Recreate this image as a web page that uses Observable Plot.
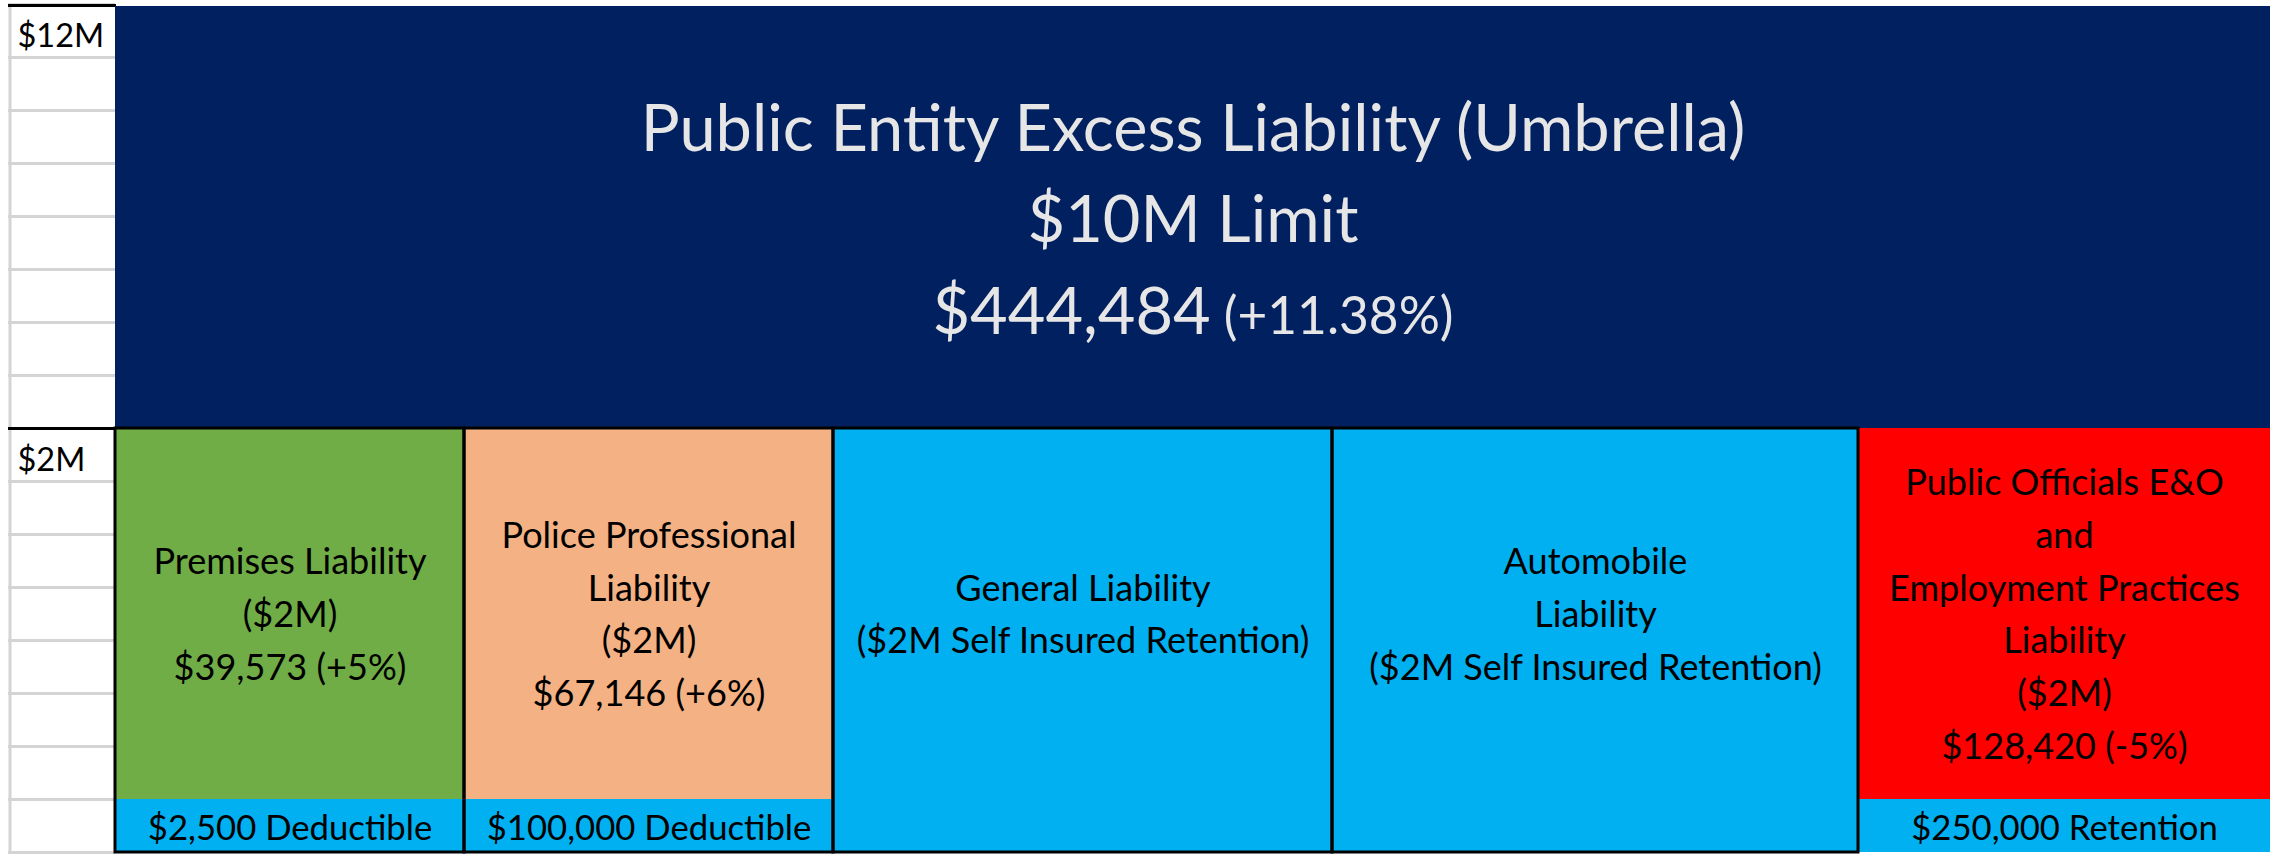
<!DOCTYPE html>
<html><head><meta charset="utf-8">
<script src="https://cdn.jsdelivr.net/npm/d3@7"></script>
<script src="https://cdn.jsdelivr.net/npm/@observablehq/plot@0.6"></script>
<style>
html,body{margin:0;padding:0;background:#fff;}
#chart svg{display:block;}
</style>
</head><body><div id="chart"></div>
<script>
// ---------------- data ----------------
const excessName = "Public Entity Excess Liability (Umbrella)";
const excessAttachment = 2e6;
const excessLimit = 10e6;
const excessPremium = 444484;
const excessChange = 0.1138;

const coverageNames = [
  "Premises Liability",
  "Police Professional\nLiability",
  "General Liability",
  "Automobile\nLiability",
  "Public Officials E&O\nand\nEmployment Practices\nLiability"
];
const coverageLimitText = ["($2M)", "($2M)", "($2M Self Insured Retention)", "($2M Self Insured Retention)", "($2M)"];
const coverageLimits = [2e6, 2e6, 2e6, 2e6, 2e6];
const coveragePremiums = [39573, 67146, null, null, 128420];
const coverageChanges = [0.05, 0.06, null, null, -0.05];
const retentionText = ["$2,500 Deductible", "$100,000 Deductible", null, null, "$250,000 Retention"];

const yTickValues = [2e6, 12e6];
const yTickLabels = ["$2M", "$12M"];

// ---------------- styles / layout ----------------
const coverageColors = ["#70AD47", "#F4B183", "#00B0F0", "#00B0F0", "#FF0000"];
const coverageBorder = [true, true, true, true, false];
const excessColor = "#002060";
const retentionColor = "#00B0F0";
const columnWidths = [349, 369, 499, 526, 412];
const labelColumnWidth = 107;
const W = 2280, H = 858;

// sheet rows: the $0–2M primary layer and the $2M–12M excess layer each span 8 rows
const toRow = d3.scaleLinear().domain([0, 2e6, 12e6]).range([0, 8, 16]);
const retentionRows = 1;

// font sizing: fit Lato to the original Calibri widths
const ctx = document.createElement("canvas").getContext("2d");
function textW(s, size) { ctx.font = `${size}px Lato`; return ctx.measureText(s).width; }
let k = 1108 / textW(excessName, 72);
if (!isFinite(k) || k <= 0) k = 0.9;
const titleSize = 72 * k;
const pctSize = 57 * k;
const bodySize = 40 * k;
const stripSize = 38.5 * k;
const tickSize = 36 * k;

const fmtMoney = d3.format("$,");
const fmtPct0 = p => d3.format("+.0%")(p).replace("\u2212", "-");
const fmtPct2 = p => d3.format("+.2%")(p).replace("\u2212", "-");

const totalW = d3.sum(columnWidths);
const edges = [0, ...d3.cumsum(columnWidths)];

const coverages = coverageNames.map((name, i) => ({
  x1: edges[i], x2: edges[i + 1], xm: (edges[i] + edges[i + 1]) / 2,
  top: toRow(coverageLimits[i]),
  color: coverageColors[i],
  border: coverageBorder[i],
  retention: retentionText[i],
  label: name + "\n" + coverageLimitText[i] +
    (coveragePremiums[i] != null ? `\n${fmtMoney(coveragePremiums[i])} (${fmtPct0(coverageChanges[i])})` : "")
}));
const withRetention = coverages.filter(d => d.retention);
const bordered = coverages.filter(d => d.border);

const excess = [{x1: 0, x2: totalW, y1: toRow(excessAttachment), y2: toRow(excessAttachment + excessLimit)}];
const excessMidX = totalW / 2;
const excessMidY = (excess[0].y1 + excess[0].y2) / 2;

const line1 = excessName;
const line2 = `$${excessLimit / 1e6}M Limit`;
const line3a = fmtMoney(excessPremium);
const line3b = `(${fmtPct2(excessChange)})`;
const wA = textW(line3a, titleSize), wS = textW(" ", pctSize), wB = textW(line3b, pctSize);
const start3 = -(wA + wS + wB) / 2;

const gridRows = d3.range(0, 17);
const bodyLine = 52.7 / bodySize;
const labelTop = toRow(2e6);
const bodyMid = (retentionRows + labelTop) / 2;

const ticks = yTickValues.map((v, i) => ({y: toRow(v), label: yTickLabels[i]}));

const chart = Plot.plot({
  width: W, height: H,
  marginLeft: 8, marginRight: 10, marginTop: 4, marginBottom: 6,
  style: {fontFamily: "Lato", background: "#fff"},
  x: {domain: [-labelColumnWidth, totalW], axis: null},
  y: {domain: [0, 16], axis: null},
  color: {type: "identity"},
  marks: [
    // sheet gridlines in label column
    Plot.ruleY(gridRows, {y: d => d, x1: -labelColumnWidth, x2: 0, stroke: "#D4D4D4", strokeWidth: 3}),
    Plot.ruleX([-labelColumnWidth], {y1: 0, y2: 16, stroke: "#D4D4D4", strokeWidth: 3, dx: 1.5}),
    Plot.ruleY([16], {x1: -labelColumnWidth, x2: 1, stroke: "#000", strokeWidth: 3, dy: 1}),
    Plot.ruleY([labelTop], {x1: -labelColumnWidth, x2: 0, stroke: "#000", strokeWidth: 3}),
    // excess layer
    Plot.rect(excess, {x1: "x1", x2: "x2", y1: "y1", y2: "y2", fill: excessColor, dy: 2}),
    // primary coverages
    Plot.rect(coverages, {x1: "x1", x2: "x2", y1: 0, y2: "top", fill: "color"}),
    Plot.rect(withRetention, {x1: "x1", x2: "x2", y1: 0, y2: retentionRows, fill: retentionColor}),
    Plot.rect(bordered, {x1: "x1", x2: "x2", y1: 0, y2: "top", fill: "none", stroke: "#000", strokeWidth: 3}),
    // tick labels
    Plot.text(ticks, {x: -labelColumnWidth, y: "y", text: "label",
      textAnchor: "start", lineAnchor: "bottom", dx: 9, dy: 42, fontSize: tickSize, fill: "#000"}),
    // excess text
    Plot.text([line1], {x: excessMidX, y: excessMidY, text: d => d, lineAnchor: "bottom", dy: -66, fontSize: titleSize, fill: "#E7E6E6"}),
    Plot.text([line2], {x: excessMidX, y: excessMidY, text: d => d, lineAnchor: "bottom", dy: 25, fontSize: titleSize, fill: "#E7E6E6"}),
    Plot.text([line3a], {x: excessMidX, y: excessMidY, text: d => d, lineAnchor: "bottom", textAnchor: "start", dx: start3, dy: 117, fontSize: titleSize, fill: "#E7E6E6"}),
    Plot.text([line3b], {x: excessMidX, y: excessMidY, text: d => d, lineAnchor: "bottom", textAnchor: "start", dx: start3 + wA + wS, dy: 117, fontSize: pctSize, fill: "#E7E6E6"}),
    // coverage text
    Plot.text(coverages, {x: "xm", y: bodyMid, text: "label",
      lineAnchor: "middle", lineHeight: bodyLine, dy: -4, fontSize: bodySize, fill: "#000"}),
    Plot.text(withRetention, {x: "xm", y: retentionRows / 2, text: "retention",
      lineAnchor: "bottom", dy: 13.5, fontSize: stripSize, fill: "#000"})
  ]
});
document.getElementById("chart").appendChild(chart);
</script>
</body></html>
